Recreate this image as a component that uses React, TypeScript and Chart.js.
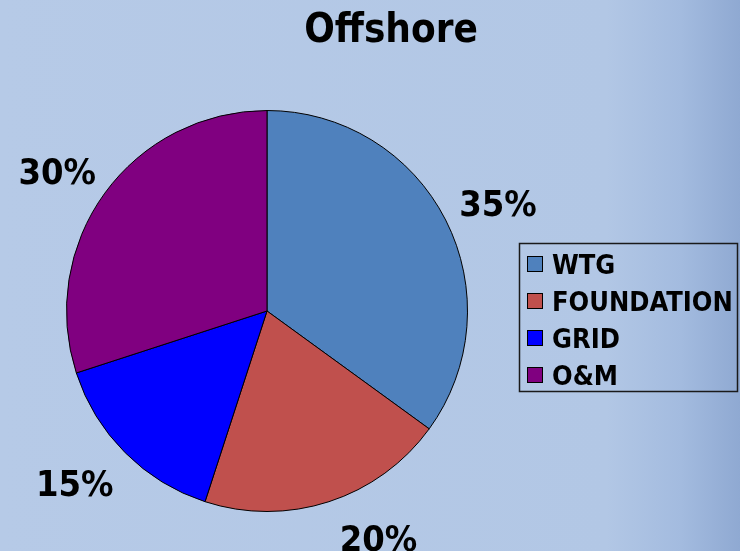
import React, { useEffect, useRef } from "react";
import { Chart, registerables } from "chart.js";

Chart.register(...registerables);

const categories = ["WTG", "FOUNDATION", "GRID", "O&M"];
const shares = [35, 20, 15, 30];
const sliceColors = ["#4F81BD", "#C0504D", "#0000FF", "#800080"];
const titleText = "Offshore";

const FONT = '"DejaVu Sans Condensed", "DejaVu Sans", sans-serif';

const decorPlugin = {
  id: "decor",
  beforeDraw(chart: any) {
    const { ctx, width, height } = chart;
    ctx.save();
    const g = ctx.createLinearGradient(0, 0, width, 0);
    g.addColorStop(0, "#b6cae7");
    g.addColorStop(0.82, "#b2c7e5");
    g.addColorStop(0.92, "#a3bbdf");
    g.addColorStop(1, "#8fa9d2");
    ctx.fillStyle = g;
    ctx.fillRect(0, 0, width, height);
    ctx.restore();
  },
  afterDraw(chart: any, _args: any, opts: any) {
    const { ctx } = chart;
    const meta = chart.getDatasetMeta(0);
    const data = chart.data.datasets[0].data;
    const total = data.reduce((a: number, b: number) => a + b, 0);
    ctx.save();
    // title
    ctx.fillStyle = "#000";
    ctx.font = `bold 40px ${FONT}`;
    ctx.textAlign = "center";
    ctx.textBaseline = "alphabetic";
    ctx.fillText(titleText, 391, 42);

    // percentage labels
    const size = 36;
    ctx.font = `bold ${size}px ${FONT}`;
    const capH = size * 0.729;
    meta.data.forEach((arc: any, i: number) => {
      const p = arc.getProps(["x", "y", "startAngle", "endAngle", "outerRadius"], true);
      const mid = (p.startAngle + p.endAngle) / 2 + (opts.nudges[i] || 0);
      const dx = Math.cos(mid);
      const dy = Math.sin(mid);
      const txt = Math.round((data[i] / total) * 100) + "%";
      const w = ctx.measureText(txt).width;
      const r = p.outerRadius + 20;
      const cx = p.x + dx * r + (dx * w) / 2;
      const cy = p.y + dy * r + (dy * capH) / 2 + dy * 4 + (dy > 0 ? 12 : 0);
      ctx.textAlign = "center";
      ctx.fillText(txt, cx, cy + capH / 2);
    });

    // legend
    const lx = 519, ly = 243, lw = 218, lh = 148;
    ctx.lineWidth = 1.5;
    ctx.strokeStyle = "#1a1a1a";
    ctx.strokeRect(lx + 0.5, ly + 0.5, lw, lh);
    ctx.font = `bold 27px ${FONT}`;
    ctx.textAlign = "left";
    chart.data.labels.forEach((lab: string, i: number) => {
      const rowC = 264 + i * 37;
      ctx.fillStyle = chart.data.datasets[0].backgroundColor[i];
      ctx.fillRect(527, rowC - 8, 16, 16);
      ctx.lineWidth = 1;
      ctx.strokeStyle = "#000";
      ctx.strokeRect(527.5, rowC - 7.5, 15, 15);
      ctx.fillStyle = "#000";
      ctx.fillText(lab, 552, rowC + 9.5);
    });
    ctx.restore();
  },
};

export default function App() {
  const ref = useRef<HTMLCanvasElement | null>(null);
  useEffect(() => {
    if (!ref.current) return;
    const chart = new Chart(ref.current, {
      type: "pie",
      data: {
        labels: categories,
        datasets: [
          {
            data: shares,
            backgroundColor: sliceColors,
            borderColor: "#000",
            borderWidth: 1,
          },
        ],
      },
      options: {
        responsive: false,
        animation: false,
        layout: { padding: { left: 66, top: 110, right: 272, bottom: 39 } },
        plugins: {
          legend: { display: false },
          title: { display: false },
          tooltip: { enabled: false },
          decor: { nudges: [0, -0.13, 0.05, 0] },
        } as any,
      },
      plugins: [decorPlugin],
    });
    return () => chart.destroy();
  }, []);
  return (
    <div style={{ position: "fixed", left: 0, top: 0, width: 740, height: 551 }}>
      <canvas ref={ref} width={740} height={551} style={{ display: "block" }} />
    </div>
  );
}
